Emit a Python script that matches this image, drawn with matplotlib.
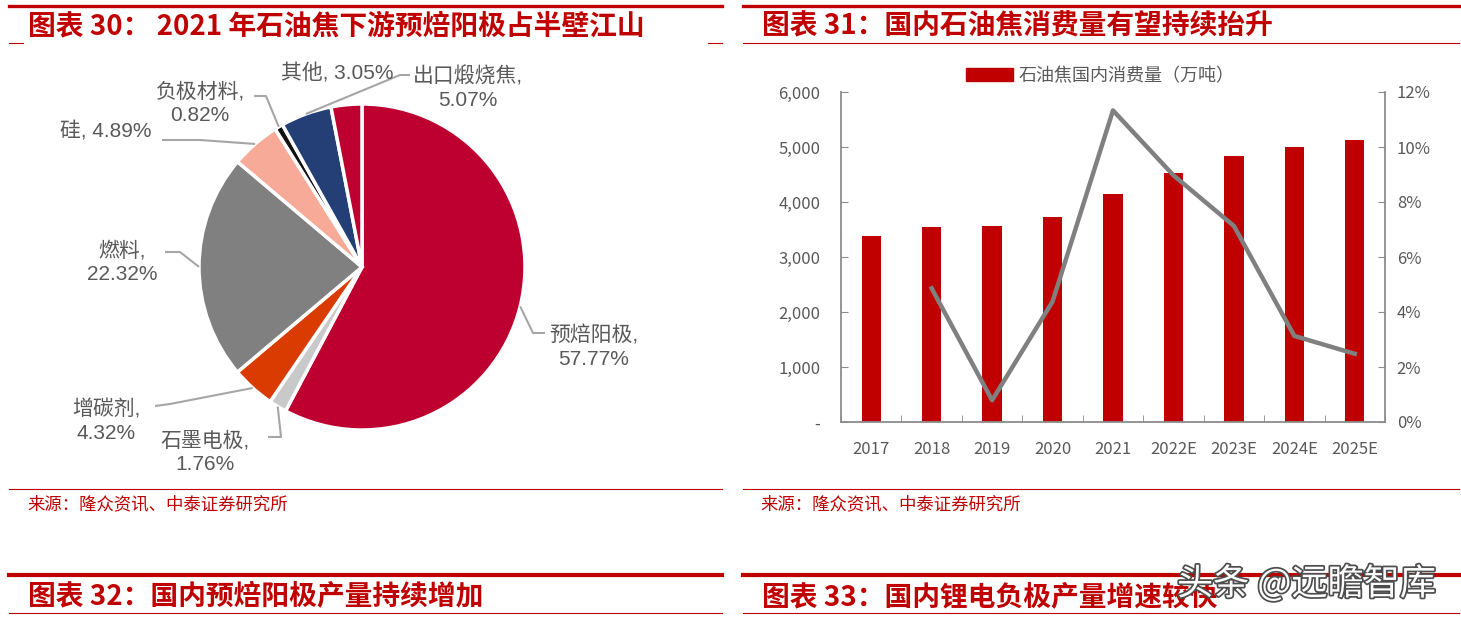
import numpy as np
import matplotlib.pyplot as plt
import matplotlib.patheffects as pe
from matplotlib.lines import Line2D
from matplotlib.patches import Patch
from matplotlib.ticker import FuncFormatter, FixedLocator

plt.rcParams['font.family'] = ['Noto Sans CJK SC', 'DejaVu Sans']

# ---- data ----
pie_labels = ['预焙阳极', '石墨电极', '增碳剂', '燃料', '硅', '负极材料', '出口煅烧焦', '其他']
pie_values = [57.77, 1.76, 4.32, 22.32, 4.89, 0.82, 5.07, 3.05]
pie_colors = ['#BE0031', '#C9C9C9', '#DA3B01', '#808080', '#F7AA98', '#111111', '#233F76', '#BE0031']

years = ['2017', '2018', '2019', '2020', '2021', '2022E', '2023E', '2024E', '2025E']
consumption = [3380, 3540, 3570, 3730, 4150, 4520, 4840, 5000, 5120]
growth = [np.nan, 4.86, 0.79, 4.38, 11.33, 8.97, 7.13, 3.13, 2.48]

titles = ['图表 30： 2021 年石油焦下游预焙阳极占半壁江山', '图表 31：国内石油焦消费量有望持续抬升',
          '图表 32：国内预焙阳极产量持续增加', '图表 33：国内锂电负极产量增速较快']
source = '来源：隆众资讯、中泰证券研究所'

RED = '#C00000'
TXT = '#595959'
AX = '#8C8C8C'
W, H = 1461, 622
LBL_FONT = ['Liberation Sans', 'Noto Sans CJK SC']


def fx(x):
    return x / W


def fy(y):
    return 1 - y / H


fig = plt.figure(figsize=(W / 100, H / 100), dpi=100)

# ---- frame lines and titles ----
panels = [(9, 722), (743, 1459)]
for (x0, x1) in panels:
    fig.add_artist(Line2D([fx(x0), fx(x1)], [fy(5.5), fy(5.5)], color=RED, lw=2.4))
    fig.add_artist(Line2D([fx(x0), fx(x1)], [fy(489), fy(489)], color=RED, lw=0.8))
    fig.add_artist(Line2D([fx(x0), fx(x1)], [fy(575), fy(575)], color=RED, lw=3.0))
    fig.add_artist(Line2D([fx(x0), fx(x1)], [fy(613), fy(613)], color=RED, lw=0.8))
# under-title rule: only end ticks on the left, full on the right
fig.add_artist(Line2D([fx(9), fx(23)], [fy(43), fy(43)], color=RED, lw=0.8))
fig.add_artist(Line2D([fx(708), fx(722)], [fy(43), fy(43)], color=RED, lw=0.8))
fig.add_artist(Line2D([fx(743), fx(1459)], [fy(43), fy(43)], color=RED, lw=0.8))

for t, (x, y) in zip(titles, [(28, 26), (762, 26), (28, 597), (762, 597)]):
    fig.text(fx(x), fy(y), t, color=RED, fontsize=20, fontweight='bold', fontstyle='italic',
             ha='left', va='center')
for x in (27, 760):
    fig.text(fx(x), fy(504), source, color=RED, fontsize=12.5, ha='left', va='center')

# ---- pie ----
cx, cy, R = 362, 267, 163
axp = fig.add_axes([0, fy(480), fx(720), (480 - 50) / H])
wedges, _ = axp.pie(pie_values, colors=pie_colors, startangle=90, counterclock=False,
                    wedgeprops=dict(edgecolor='white', linewidth=2.5))
axp.set_xlim((0 - cx) / R, (720 - cx) / R)
axp.set_ylim((cy - 480) / R, (cy - 50) / R)
axp.set_aspect('auto')
axp.axis('off')


def d(px, py):
    return (px - cx) / R, (cy - py) / R


# label layout: text position (px), leader elbow and end points (px)
layout = [
    dict(t=(594, 347), pts=[(533, 333), (545, 333)], two=True),
    dict(t=(205, 452), pts=[(281, 437), (268, 437)], two=True),
    dict(t=(106, 421), pts=[(170, 404), (155, 406)], two=True),
    dict(t=(122, 262), pts=[(180, 252), (165, 252)], two=True),
    dict(t=(106, 131), pts=[(200, 140), (162, 140)], two=False),
    dict(t=(200, 103), pts=[(266, 96), (254, 96)], two=True),
    dict(t=(468, 88), pts=[(400, 75), (410, 75)], two=True),
    dict(t=(337, 73), pts=None, two=False),
]
for w, lab, val, lay in zip(wedges, pie_labels, pie_values, layout):
    ang = np.deg2rad((w.theta1 + w.theta2) / 2)
    ex, ey = np.cos(ang), np.sin(ang)
    if lay['pts'] is not None:
        xs = [ex] + [d(*p)[0] for p in lay['pts']]
        ys = [ey] + [d(*p)[1] for p in lay['pts']]
        axp.plot(xs, ys, color='#A6A6A6', lw=1.5, solid_capstyle='butt')
    sep = '\n' if lay['two'] else ' '
    tx, ty = d(*lay['t'])
    axp.text(tx, ty, f'{lab},{sep}{val:.2f}%', ha='center', va='center', color=TXT,
             fontsize=15, family=LBL_FONT, linespacing=1.3)

# ---- bar + line ----
ax = fig.add_axes([fx(841), fy(422), fx(1385) - fx(841), (422 - 92) / H])
x = np.arange(len(years))
ax.bar(x, consumption, width=0.32, color=RED, zorder=2)
ax.set_xlim(-0.5, len(years) - 0.5)
ax.set_ylim(0, 6000)
ax.set_yticks(range(0, 6001, 1000))
ax.yaxis.set_major_formatter(FuncFormatter(lambda v, p: '-' if v == 0 else f'{int(v):,}'))
ax.set_xticks(x)
ax.set_xticklabels(years)
ax.xaxis.set_minor_locator(FixedLocator(np.arange(-0.5, len(years), 1.0)))
ax.tick_params(axis='x', which='major', length=0, pad=14, labelsize=12, labelcolor=TXT)
ax.tick_params(axis='x', which='minor', length=5, direction='in', color=AX)
ax.tick_params(axis='y', length=5, direction='in', color=AX, labelsize=12, labelcolor=TXT, pad=15)
for s in ['top', 'right']:
    ax.spines[s].set_visible(False)
for s in ['left', 'bottom']:
    ax.spines[s].set_color(AX)
    ax.spines[s].set_linewidth(1.3)

ax2 = ax.twinx()
ax2.plot(x, growth, color='#808080', lw=3.2, zorder=3)
ax2.set_ylim(0, 12)
ax2.set_yticks(range(0, 13, 2))
ax2.yaxis.set_major_formatter(FuncFormatter(lambda v, p: f'{int(v)}%'))
ax2.tick_params(axis='y', length=5, direction='in', color=AX, labelsize=12, labelcolor=TXT, pad=8.5)
for s in ['top', 'left', 'bottom']:
    ax2.spines[s].set_visible(False)
ax2.spines['right'].set_color(AX)
ax2.spines['right'].set_linewidth(1.3)

fig.legend(handles=[Patch(color=RED, label='石油焦国内消费量（万吨）')], loc='center',
           bbox_to_anchor=(fx(1100), fy(76)), frameon=False, fontsize=13, labelcolor=TXT,
           handlelength=2.6, handleheight=0.75, handletextpad=0.3)

# ---- watermark ----
fig.text(fx(1177), fy(584), '头条 @远瞻智库', fontsize=26, color='white', ha='left', va='center',
         path_effects=[pe.withStroke(linewidth=2.5, foreground='#4D4D4D')])

fig.savefig('out.png', dpi=100, facecolor='white')
